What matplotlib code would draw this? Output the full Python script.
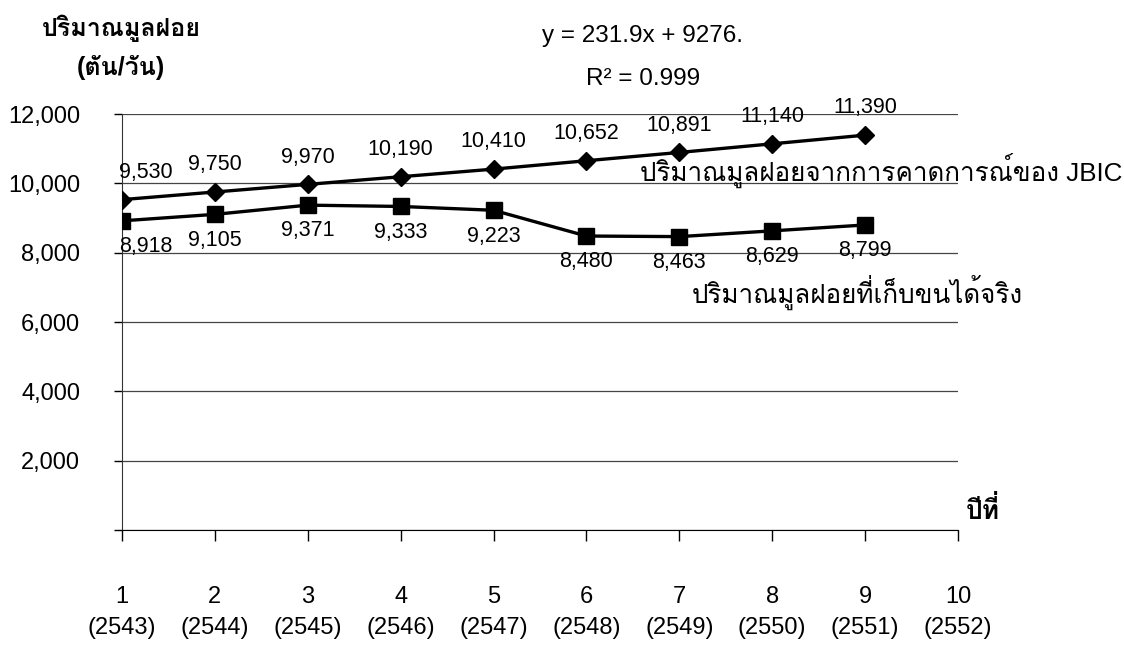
import matplotlib
matplotlib.use("Agg")
import matplotlib.pyplot as plt

plt.rcParams['font.family'] = ['Liberation Sans', 'Loma', 'Noto Sans Thai Looped', 'DejaVu Sans']

# --- data ---
years = [1, 2, 3, 4, 5, 6, 7, 8, 9]
jbic = [9530, 9750, 9970, 10190, 10410, 10652, 10891, 11140, 11390]
actual = [8918, 9105, 9371, 9333, 9223, 8480, 8463, 8629, 8799]
x_ticks = [1, 2, 3, 4, 5, 6, 7, 8, 9, 10]
be_years = [2543, 2544, 2545, 2546, 2547, 2548, 2549, 2550, 2551, 2552]
y_ticks = [0, 2000, 4000, 6000, 8000, 10000, 12000]

jbic_name = "ปริมาณมูลฝอยจากการคาดการณ์ของ JBIC"
actual_name = "ปริมาณมูลฝอยที่เก็บขนได้จริง"
equation = "y = 231.9x + 9276."
r2_text = "R² = 0.999"

W, H = 1124, 652
fig = plt.figure(figsize=(W / 100, H / 100), dpi=100)
ax = fig.add_axes([122 / W, 1 - 530 / H, (958 - 122) / W, (530 - 114) / H])

ax.plot(years, jbic, color='black', lw=2.4, marker='D', markersize=9, zorder=3)
ax.plot(years, actual, color='black', lw=2.4, marker='s', markersize=12, zorder=3)

# value labels: forecast above the points, actual below
for i, (x, v) in enumerate(zip(years, jbic)):
    ax.annotate(f"{v:,}", (x, v), xytext=(0 if i else -2, 12), textcoords='offset points',
                ha='center' if i else 'left', va='bottom', fontsize=15.5)
for i, (x, v) in enumerate(zip(years, actual)):
    ax.annotate(f"{v:,}", (x, v), xytext=(0 if i else -2, -11), textcoords='offset points',
                ha='center' if i else 'left', va='top', fontsize=15.5)

ax.set_xlim(1, 10)
ax.set_ylim(0, 12000)
ax.set_xticks(x_ticks)
ax.set_xticklabels([f"{n}\n({b})" for n, b in zip(x_ticks, be_years)], fontsize=17, linespacing=1.55)
ax.set_yticks(y_ticks)
ax.set_yticklabels(['' if v == 0 else f"{v:,}" for v in y_ticks], fontsize=17)
ax.tick_params(axis='x', direction='out', length=8, width=1, pad=32)
ax.tick_params(axis='y', direction='out', length=6, width=1, pad=24)

ax.grid(axis='y', color='#444444', lw=0.9)
ax.set_axisbelow(True)
for s in ['top', 'right']:
    ax.spines[s].set_visible(False)
ax.spines['left'].set_color('#333333')
ax.spines['bottom'].set_color('black')

# axis titles and annotations, placed in figure pixels
def ftext(px, py, s, **kw):
    fig.text(px / W, 1 - py / H, s, **kw)

ftext(121, 28, "ปริมาณมูลฝอย", ha='center', va='center', fontsize=18, fontweight='bold')
ftext(121, 68, "(ตัน/วัน)", ha='center', va='center', fontsize=18, fontweight='bold')
ftext(643, 36, equation, ha='center', va='center', fontsize=17.5)
ftext(643, 79, r2_text, ha='center', va='center', fontsize=17.5)
ftext(983, 510, "ปีที่", ha='center', va='center', fontsize=19, fontweight='bold')
ftext(640, 170, jbic_name, ha='left', va='center', fontsize=18.7)
ftext(692, 292, actual_name, ha='left', va='center', fontsize=18.7)

fig.savefig("out.png", dpi=100, facecolor='white')
